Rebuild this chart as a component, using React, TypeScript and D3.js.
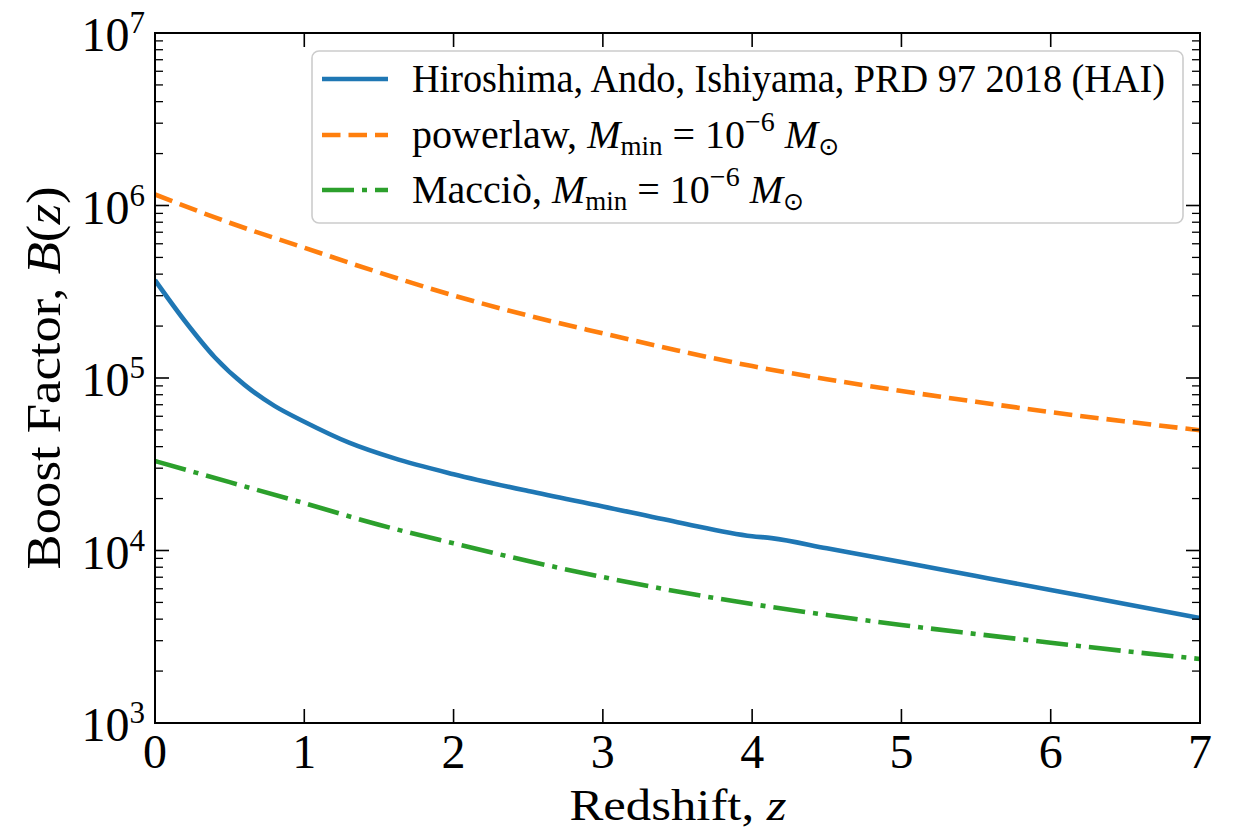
import React from 'react';
import * as d3 from 'd3';

// ---- data ----
const zHAI = [0, 0.2, 0.4, 0.6, 0.8, 1.0, 1.3, 1.6, 2.0, 2.5, 3, 3.5, 4, 4.13, 4.5, 5, 5.5, 6, 6.5, 7];
const bHAI = [3.69e5, 2.14e5, 1.32e5, 9.12e4, 6.89e4, 5.58e4, 4.22e4, 3.43e4, 2.77e4, 2.21e4, 1.8e4, 1.46e4, 1.21e4, 1.18e4, 1.03e4, 8.57e3, 7.11e3, 5.9e3, 4.9e3, 4.06e3];

const zPow = [0, 0.5, 1, 1.5, 2, 2.5, 3, 3.5, 4, 4.5, 5, 5.5, 6, 6.5, 7];
const bPow = [1.159e6, 7.94e5, 5.69e5, 4.09e5, 3.01e5, 2.3e5, 1.815e5, 1.445e5, 1.172e5, 9.84e4, 8.41e4, 7.28e4, 6.34e4, 5.6e4, 4.98e4];

const zMac = [0, 0.5, 1, 1.5, 2, 2.5, 3, 3.5, 4, 4.5, 5, 5.5, 6, 6.5, 7];
const bMac = [3.3e4, 2.49e4, 1.88e4, 1.41e4, 1.1e4, 8.69e3, 7.01e3, 5.78e3, 4.89e3, 4.23e3, 3.7e3, 3.28e3, 2.92e3, 2.61e3, 2.35e3];

const xTicks = [0, 1, 2, 3, 4, 5, 6, 7];
const yExponents = [3, 4, 5, 6, 7];

const seriesColors = ['#1f77b4', '#ff7f0e', '#2ca02c'];
const legendLabel1 = 'Hiroshima, Ando, Ishiyama, PRD 97 2018 (HAI)';
const legendLabel2 = 'powerlaw, ';
const legendLabel3 = 'Macciò, ';

const FONT = "'Liberation Serif', 'DejaVu Serif', serif";

export default function App() {
  const W = 1236, H = 830;
  const L = 155, R = 1200, T = 33, B = 723;
  const x = d3.scaleLinear().domain([0, 7]).range([L, R]);
  const y = d3.scaleLog().domain([1e3, 1e7]).range([B, T]);

  const line = d3.line<[number, number]>()
    .x(d => x(d[0]))
    .y(d => y(d[1]))
    .curve(d3.curveMonotoneX);

  const mk = (zs: number[], bs: number[]) => line(zs.map((z, i) => [z, bs[i]] as [number, number])) || '';

  const lw = 4.6;
  const series = [
    { d: mk(zHAI, bHAI), color: seriesColors[0], dash: undefined },
    { d: mk(zPow, bPow), color: seriesColors[1], dash: '18.5 8' },
    { d: mk(zMac, bMac), color: seriesColors[2], dash: '32 8 5 8' },
  ];

  const allTicks = y.ticks();
  const majorVals = yExponents.map(e => Math.pow(10, e));
  const minorTicks = allTicks.filter(v => !majorVals.some(m => Math.abs(m - v) / m < 1e-9));

  const majLen = 14, minLen = 8;
  const tickStroke = 1.6;

  const legX = 312, legY = 51, legW = 871, legH = 172;
  const rowY = [79, 135, 190];
  const handleX0 = 322, handleX1 = 388, textX = 412;
  const fs = 40;
  const txt = { fontFamily: FONT };

  const mathPart = (
    <>
      <tspan fontStyle="italic">M</tspan>
      <tspan fontSize={27} dy={7}>min</tspan>
      <tspan dy={-7}>{' = 10'}</tspan>
      <tspan fontSize={28} dy={-17}>−6</tspan>
      <tspan dy={17} fontStyle="italic">{' M'}</tspan>
      <tspan fontSize={25} dy={7} style={{ fontFamily: "'DejaVu Sans', sans-serif" }}>⊙</tspan>
    </>
  );

  return (
    <svg width={W} height={H} style={{ position: 'absolute', left: 0, top: 0, background: '#fff' }}>
      <rect x={0} y={0} width={W} height={H} fill="#fff" />
      <defs>
        <clipPath id="plotclip">
          <rect x={L} y={T} width={R - L} height={B - T} />
        </clipPath>
      </defs>

      <g clipPath="url(#plotclip)">
        {series.map((s, i) => (
          <path key={i} d={s.d} fill="none" stroke={s.color} strokeWidth={lw}
            strokeDasharray={s.dash} strokeLinecap="butt" strokeLinejoin="round" />
        ))}
      </g>

      {xTicks.map(t => (
        <g key={'x' + t}>
          <line x1={x(t)} x2={x(t)} y1={B} y2={B - majLen} stroke="#000" strokeWidth={tickStroke} />
          <line x1={x(t)} x2={x(t)} y1={T} y2={T + majLen} stroke="#000" strokeWidth={tickStroke} />
          <text x={x(t)} y={768} textAnchor="middle" fontSize={48} fill="#000" style={txt}>{t}</text>
        </g>
      ))}

      {yExponents.map(e => {
        const v = Math.pow(10, e);
        const yy = y(v);
        return (
          <g key={'y' + e}>
            <line x1={L} x2={L + majLen} y1={yy} y2={yy} stroke="#000" strokeWidth={tickStroke} />
            <line x1={R} x2={R - majLen} y1={yy} y2={yy} stroke="#000" strokeWidth={tickStroke} />
            <text x={145} y={yy + 18} textAnchor="end" fontSize={48} fill="#000" style={txt}>
              10<tspan fontSize={31} dy={-18}>{e}</tspan>
            </text>
          </g>
        );
      })}

      {minorTicks.map((v, i) => (
        <g key={'m' + i}>
          <line x1={L} x2={L + minLen} y1={y(v)} y2={y(v)} stroke="#000" strokeWidth={1.3} />
          <line x1={R} x2={R - minLen} y1={y(v)} y2={y(v)} stroke="#000" strokeWidth={1.3} />
        </g>
      ))}

      <rect x={L} y={T} width={R - L} height={B - T} fill="none" stroke="#000" strokeWidth={2} />

      <text x={678} y={820} textAnchor="middle" fontSize={45} fill="#000" style={txt} textLength={217} lengthAdjust="spacingAndGlyphs">
        Redshift, <tspan fontStyle="italic">z</tspan>
      </text>
      <text transform="translate(60,378) rotate(-90)" textAnchor="middle" fontSize={48} fill="#000" style={txt} textLength={383} lengthAdjust="spacingAndGlyphs">
        Boost Factor, <tspan fontStyle="italic">B</tspan>(<tspan fontStyle="italic">z</tspan>)
      </text>

      <rect x={legX} y={legY} width={legW} height={legH} rx={7} ry={7}
        fill="#fff" fillOpacity={0.8} stroke="#cccccc" strokeWidth={1.6} />
      {series.map((s, i) => (
        <line key={'lh' + i} x1={handleX0} x2={handleX1} y1={rowY[i]} y2={rowY[i]}
          stroke={s.color} strokeWidth={lw} strokeDasharray={s.dash} />
      ))}
      <text x={textX} y={rowY[0] + 13} fontSize={fs} fill="#000" style={txt} textLength={753} lengthAdjust="spacingAndGlyphs">
        {legendLabel1}
      </text>
      <text x={textX} y={rowY[1] + 13} fontSize={fs} fill="#000" style={txt}>
        {legendLabel2}{mathPart}
      </text>
      <text x={textX} y={rowY[2] + 13} fontSize={fs} fill="#000" style={txt}>
        {legendLabel3}{mathPart}
      </text>
    </svg>
  );
}
